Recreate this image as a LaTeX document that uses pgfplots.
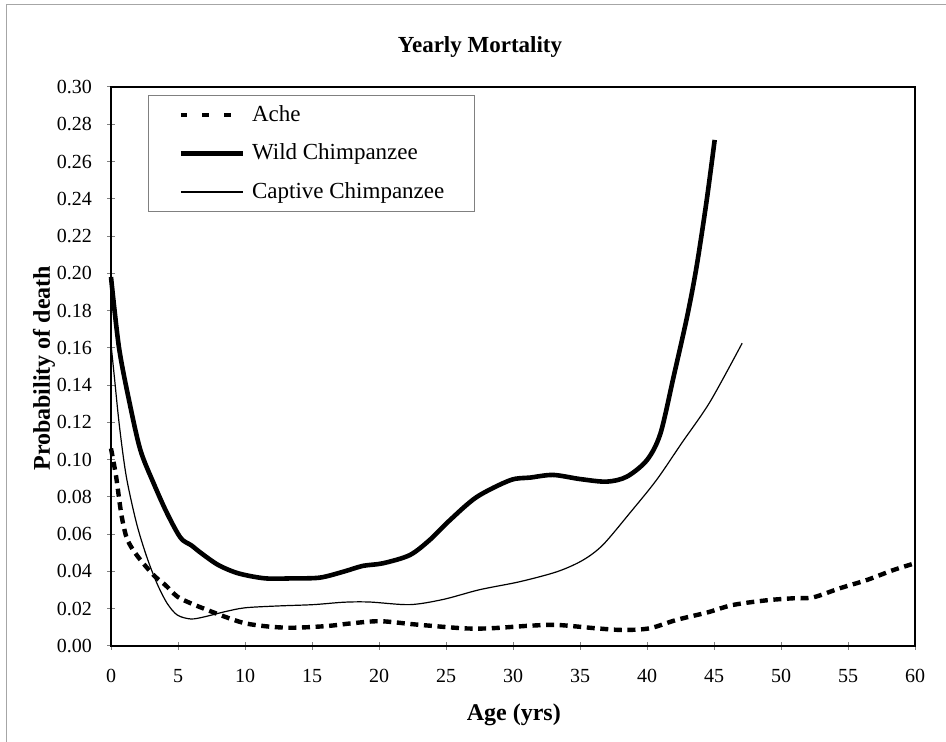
\documentclass[border=0pt]{standalone}
\usepackage{fontspec}
\setmainfont{Liberation Serif}
\usepackage{pgfplots}
\pgfplotsset{compat=1.18}
\begin{document}
\begin{tikzpicture}
\useasboundingbox (-55.5pt,-48pt) rectangle (417.5pt,323pt);
\draw[gray!70, line width=0.5pt] (-52pt,-48pt) -- (-52pt,320.5pt) -- (417.5pt,320.5pt);
\begin{axis}[
  at={(0,0)}, anchor=south west,
  scale only axis, width=402pt, height=279.5pt,
  xmin=0, xmax=60, ymin=0, ymax=0.30,
  xtick={0,5,...,60},
  ytick={0,0.02,0.04,0.06,0.08,0.10,0.12,0.14,0.16,0.18,0.20,0.22,0.24,0.26,0.28,0.30},
  xtick pos=bottom, ytick pos=left,
  axis line style={black, line width=1.1pt},
  tick align=center, major tick length=4pt,
  tick style={gray, line width=0.5pt},
  /pgf/number format/assume math mode=true,
  ticklabel style={font=\fontsize{10}{12}\selectfont},
  y tick label style={/pgf/number format/.cd, fixed, fixed zerofill, precision=2, /tikz/.cd, xshift=-4pt},
  x tick label style={yshift=-6pt},
  xlabel={\textbf{Age (yrs)}},
  xlabel style={at={(axis description cs:0.501,-0.1234)}, anchor=center, font=\fontsize{12}{14}\selectfont},
  ylabel={\textbf{Probability of death}},
  ylabel style={at={(axis description cs:-0.0833,0.497)}, anchor=center, font=\fontsize{12}{14}\selectfont},
  legend cell align=left,
  legend image code/.code={\draw[#1] (0pt,0pt) -- (31pt,0pt);},
  legend style={at={(axis description cs:0,1)}, anchor=north west, xshift=18.5pt, yshift=-4pt,
    draw=gray, line width=0.5pt, font=\fontsize{11.5}{13}\selectfont,
    inner xsep=15pt, inner ysep=0pt, row sep=0pt, column sep=3.5pt,
    nodes={inner sep=0pt, minimum height=19.3pt, anchor=west}},
  clip=false,
]
\node[font=\bfseries\fontsize{11.5}{13}\selectfont, anchor=center] at (axis description cs:0.459,1.0716) {Yearly Mortality};
\addplot[black, line width=2.2pt, dash pattern=on 4pt off 2.8pt, smooth,
  legend image post style={dash pattern=on 3.3pt off 7.5pt}] coordinates {
(0,0.106) (0.38,0.091) (0.76,0.0712) (1.14,0.0587) (1.65,0.0515) (2.4,0.0444) (3.3,0.0372) (4.06,0.0327) (4.95,0.0265) (5.96,0.0229) (7.2,0.0193) (8.5,0.0157) (10.0,0.0122) (11.8,0.0104) (13.6,0.0098) (16.1,0.0107) (18,0.0122) (20.1,0.0133) (22.8,0.0115) (26.3,0.0095) (28.3,0.0095) (31.3,0.0109) (33.3,0.0113) (36.2,0.0095) (38.2,0.0086) (40.2,0.0095) (42.2,0.014) (44.5,0.018) (46.4,0.022) (48.9,0.0245) (50.9,0.0256) (52.4,0.0261) (54.4,0.031) (56.4,0.0354) (58.4,0.0408) (60,0.0444)
};
\addlegendentry{Ache}
\addplot[black, line width=2.3pt, smooth] coordinates {
(0,0.198) (0.6,0.160) (1.4,0.130) (2.2,0.105) (3.2,0.087) (4.2,0.071) (5.2,0.058) (6.0,0.054) (6.7,0.050) (8.0,0.0435) (9.5,0.039) (11.5,0.0363) (13.6,0.0363) (15.6,0.0367) (17.4,0.040) (18.8,0.0430) (20.3,0.0444) (22.3,0.0488) (23.8,0.057) (25.3,0.0676) (27.3,0.080) (29.8,0.089) (31.3,0.0904) (33.0,0.0918) (35.0,0.0896) (37.0,0.0882) (38.5,0.0909) (40.0,0.0998) (41.0,0.114) (42.0,0.145) (43.0,0.177) (43.7,0.2036) (44.45,0.239) (45.05,0.2716)
};
\addlegendentry{Wild Chimpanzee}
\addplot[black, line width=0.6pt, smooth] coordinates {
(0,0.162) (0.25,0.1445) (0.63,0.118) (1.14,0.091) (1.9,0.066) (2.66,0.048) (3.43,0.0336) (4.19,0.0229) (4.95,0.0166) (5.96,0.0145) (7.0,0.0157) (8.5,0.0184) (10.0,0.0205) (12.5,0.0215) (15.1,0.0222) (17.4,0.0235) (19.3,0.0236) (22.3,0.0222) (24.8,0.025) (27.5,0.0302) (30.5,0.0345) (33.3,0.0399) (35.2,0.046) (36.7,0.0542) (38.7,0.0712) (40.7,0.089) (42.6,0.109) (44.7,0.131) (47.1,0.1625)
};
\addlegendentry{Captive Chimpanzee}
\end{axis}
\end{tikzpicture}
\end{document}
